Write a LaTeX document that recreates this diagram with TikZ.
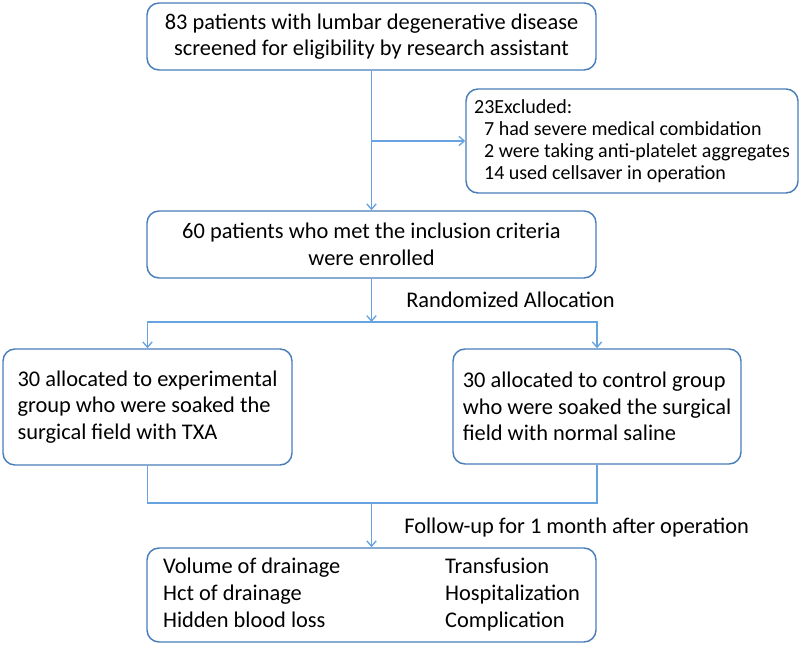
\documentclass[tikz,border=0pt]{standalone}
\usepackage{fontspec}
\setmainfont{Carlito}
\usepackage{tikz}
\usetikzlibrary{arrows.meta,positioning}
\definecolor{boxblue}{RGB}{74,126,187}
\definecolor{lineblue}{RGB}{103,163,224}

\begin{document}
\begin{tikzpicture}[x=0.75pt, y=-0.75pt, >={Straight Barb[length=4pt,width=7pt]},
  stepbox/.style={rectangle, rounded corners=9pt, draw=boxblue, line width=1.1pt, fill=white, inner sep=0pt, font=\fontsize{16.8}{20}\selectfont},
  link/.style={->, draw=lineblue, line width=1pt},
  joinline/.style={draw=lineblue, line width=1pt},
  steplabel/.style={anchor=west, inner sep=0pt, font=\fontsize{16.8}{20}\selectfont}]
\useasboundingbox (0,0) rectangle (800,645);
% Nodes
\node[stepbox, align=center, minimum width=336.75pt, minimum height=50.25pt] (screen) at (371.5,36.5) {
    83 patients with lumbar degenerative disease\\
    screened for eligibility by research assistant
};

\node[stepbox, align=left, minimum width=249pt, minimum height=78pt, font=\fontsize{15}{16.5}\selectfont] (excluded) at (632,141) {
    23Excluded:\\
    \hspace*{7.5pt}7 had severe medical combidation\\
    \hspace*{7.5pt}2 were taking anti-platelet aggregates\\
    \hspace*{7.5pt}14 used cellsaver in operation
};

\node[stepbox, align=center, minimum width=336.75pt, minimum height=50.25pt] (enrolled) at (371.5,244.5) {
    60 patients who met the inclusion criteria\\
    were enrolled
};

\node[stepbox, align=left, minimum width=216.75pt, minimum height=87pt] (txa) at (147.5,407) {
    30 allocated to experimental\\
    group who were soaked the\\
    surgical field with TXA
};

\node[stepbox, align=left, minimum width=216pt, minimum height=86.25pt] (saline) at (597,406.5) {
    30 allocated to control group\\
    who were soaked the surgical\\
    field with normal saline
};

\node[stepbox, minimum width=336.75pt, minimum height=70.5pt] (outcome) at (371.5,595) {
    \begin{tabular}{@{}p{211.5pt}@{}l@{}}
    Volume of drainage & Transfusion\\
    Hct of drainage & Hospitalization\\
    Hidden blood loss & Complication
    \end{tabular}
};

\coordinate (split) at (371.5,322);
\coordinate (merge) at (371.5,503);

% Arrows and labels
\draw[link] (screen) -- (enrolled);
\draw[link] (screen.south |- excluded.west) -- (excluded.west);
\draw[link] (enrolled) -- (split);
\draw[link] (split) -| (txa.north);
\draw[link] (split) -| (saline.north);
\draw[joinline] (txa.south) |- (merge) -| (saline.south);
\draw[link] (merge) -- (outcome);

\node[steplabel] (randomized) at (406,300) {Randomized Allocation};
\node[steplabel] (followup) at (404,528) {Follow-up for 1 month after operation};
\end{tikzpicture}
\end{document}
